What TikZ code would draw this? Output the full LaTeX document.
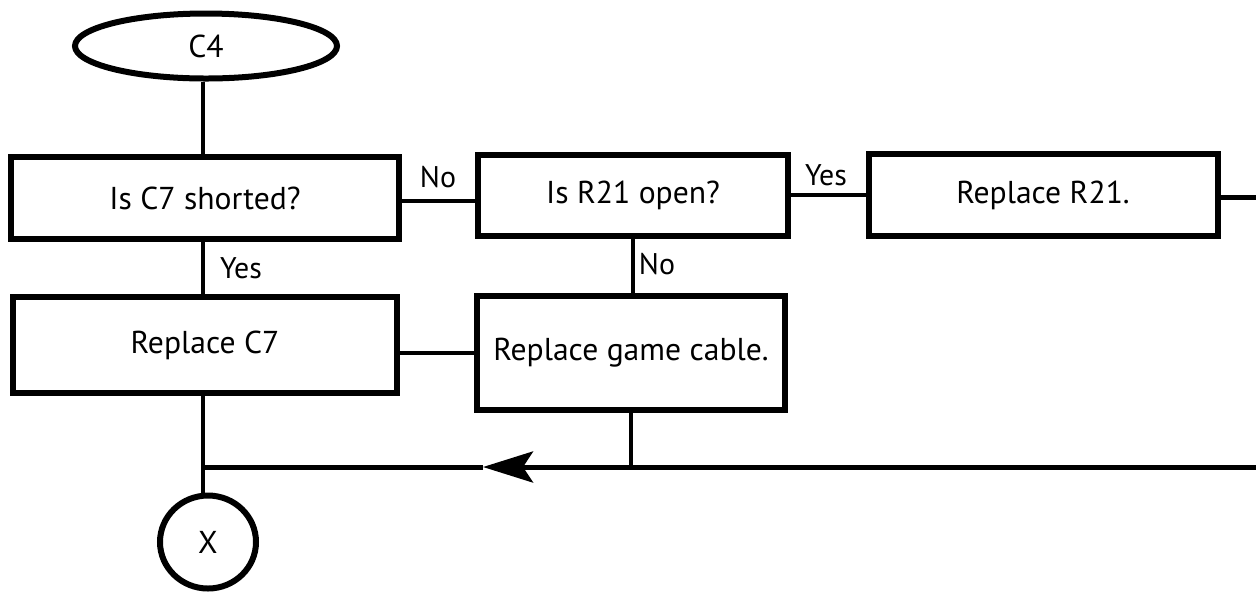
\documentclass[tikz,border=0pt]{standalone}
\usepackage{fontspec}
\setmainfont{PT Sans}
\usetikzlibrary{arrows.meta,shapes.geometric}
\newcommand{\px}{0.02cm}
\tikzset{
  box/.style={draw, line width=6*\px, rectangle, inner sep=0pt, align=center},
  term/.style={draw, line width=6*\px, ellipse, inner sep=0pt},
  link/.style={line width=3.5*\px},
  flow/.style={line width=5*\px},
  lbl/.style={font=\fontsize{17}{20}\selectfont},
}

\begin{document}
\begin{tikzpicture}[x=\px, y=-\px, font=\fontsize{18}{21}\selectfont]
    \useasboundingbox (0,0) rectangle (1256,593);

    %%% Boxes %%%
    \node[term, minimum width=262*\px, minimum height=65*\px] (c4) at (206,46) {C4};
    \node[box, minimum width=388*\px, minimum height=82*\px] (isc7) at (205,198) {Is C7 shorted?};
    \node[box, minimum width=310*\px, minimum height=81*\px] (isr21) at (633,195) {Is R21 open?};
    \node[box, minimum width=349*\px, minimum height=82*\px] (repr21) at (1043,195) {Replace R21.};
    \node[box, minimum width=384*\px, minimum height=96*\px] (repc7) at (205,345) {Replace C7};
    \node[box, minimum width=308*\px, minimum height=114*\px] (repgc) at (631,353) {Replace game cable.};
    \node[term, minimum width=96*\px, minimum height=93*\px] (x) at (208,542) {X};

    %%% Free ends and junction %%%
    \coordinate (eR) at (1256,197);
    \coordinate (eB) at (1256,467);
    \coordinate (j)  at (203,467);
    \coordinate (tip) at (483,467);

    %%% Connectors %%%
    \draw[link] (c4.south -| j) -- (isc7.north -| j);
    \draw[link] (isc7.east |- 0,201) -- (isr21.west |- 0,201);
    \draw[link] (isr21.east) -- (repr21.west |- isr21.east);
    \draw[flow] (repr21.east |- eR) -- (eR);
    \draw[link] (isc7.south -| j) -- (repc7.north -| j);
    \draw[link] (isr21.south) -- (repgc.north -| isr21.south);
    \draw[link] (repgc.west) -- (repc7.east |- repgc.west);
    \draw[link] (repc7.south -| j) -- (j) -- (x.north -| j);
    \draw[link] (repgc.south) -- (repgc.south |- j);
    \draw[flow, -{Stealth[length=1cm, width=0.62cm, inset=0.2cm]}] (eB) -- (tip);
    \draw[flow] (tip) -- (j);

    %%% Labels %%%
    \node[lbl] (no1) at (438,177) {No};
    \node[lbl] (yes1) at (826,175) {Yes};
    \node[lbl] (yes2) at (241,268) {Yes};
    \node[lbl] (no2) at (657,264) {No};

\end{tikzpicture}
\end{document}
